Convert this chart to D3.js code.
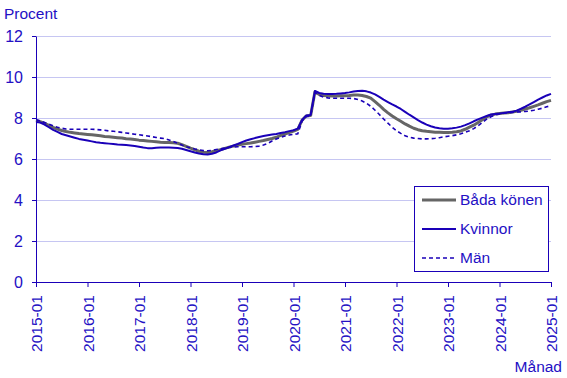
<!DOCTYPE html>
<html><head><meta charset="utf-8">
<script src="https://cdn.jsdelivr.net/npm/d3@7"></script>
<style>body{margin:0;background:#fff}svg{display:block;font-family:"Liberation Sans",Arial,sans-serif}</style>
</head><body><svg id="c" width="567" height="378"></svg>
<script>
const startYear = 2015;
const tickLabels = ["2015-01","2016-01","2017-01","2018-01","2019-01","2020-01","2021-01","2022-01","2023-01","2024-01","2025-01"];
const yTicks = [0,2,4,6,8,10,12];
const seriesNames = ["Båda könen","Kvinnor","Män"];
const bada = [7.87,7.82,7.74,7.64,7.54,7.46,7.39,7.34,7.30,7.27,7.24,7.22,
7.20,7.18,7.16,7.13,7.10,7.08,7.06,7.04,7.02,6.99,6.97,6.95,
6.92,6.90,6.88,6.86,6.84,6.82,6.81,6.80,6.79,6.77,6.70,6.62,
6.53,6.45,6.38,6.33,6.32,6.35,6.40,6.46,6.52,6.58,6.63,6.68,
6.72,6.75,6.78,6.82,6.86,6.90,6.95,7.00,7.06,7.15,7.22,7.29,
7.36,7.45,7.90,8.10,8.12,9.28,9.15,9.10,9.08,9.07,9.07,9.08,
9.09,9.10,9.12,9.12,9.10,9.05,8.97,8.80,8.62,8.42,8.25,8.10,
7.96,7.84,7.71,7.60,7.50,7.43,7.38,7.35,7.33,7.31,7.30,7.29,
7.29,7.30,7.33,7.37,7.45,7.55,7.65,7.78,7.92,8.05,8.14,8.19,
8.22,8.24,8.26,8.29,8.33,8.38,8.44,8.50,8.57,8.64,8.72,8.80,
8.86];
const kvinnor = [7.80,7.78,7.68,7.55,7.42,7.32,7.22,7.16,7.10,7.04,6.98,6.94,
6.90,6.86,6.82,6.79,6.77,6.75,6.73,6.71,6.70,6.68,6.66,6.63,
6.60,6.56,6.53,6.52,6.55,6.56,6.56,6.56,6.55,6.54,6.50,6.44,
6.38,6.32,6.27,6.23,6.22,6.26,6.32,6.42,6.50,6.58,6.66,6.73,
6.82,6.90,6.96,7.02,7.07,7.12,7.16,7.19,7.22,7.27,7.31,7.36,
7.40,7.48,7.90,8.12,8.15,9.32,9.22,9.18,9.17,9.17,9.18,9.20,
9.22,9.25,9.29,9.32,9.33,9.30,9.24,9.15,9.03,8.90,8.78,8.66,
8.56,8.44,8.30,8.16,8.03,7.90,7.78,7.68,7.60,7.54,7.50,7.48,
7.48,7.50,7.53,7.58,7.65,7.74,7.84,7.93,8.02,8.10,8.17,8.20,
8.22,8.25,8.28,8.30,8.36,8.45,8.55,8.66,8.78,8.90,9.00,9.10,
9.18];
const man = [7.92,7.86,7.78,7.70,7.62,7.55,7.50,7.46,7.45,7.45,7.45,7.45,
7.45,7.45,7.44,7.42,7.40,7.37,7.35,7.33,7.30,7.27,7.24,7.21,
7.18,7.15,7.12,7.09,7.05,7.02,6.99,6.93,6.86,6.77,6.68,6.60,
6.54,6.49,6.45,6.41,6.40,6.42,6.46,6.50,6.53,6.56,6.58,6.60,
6.60,6.60,6.60,6.61,6.63,6.68,6.76,6.88,6.97,7.05,7.12,7.17,
7.20,7.23,7.85,8.08,8.10,9.25,9.10,9.02,8.98,8.96,8.96,8.96,
8.96,8.96,8.95,8.90,8.83,8.72,8.57,8.38,8.17,7.95,7.75,7.55,
7.38,7.25,7.13,7.06,7.02,7.00,6.98,6.98,6.99,7.01,7.04,7.08,
7.11,7.14,7.18,7.23,7.30,7.38,7.48,7.62,7.78,7.94,8.06,8.14,
8.20,8.23,8.25,8.27,8.29,8.30,8.32,8.34,8.38,8.43,8.48,8.55,
8.60];

const blue = "#1a00b8", text = "#2410c4", grid = "#c6c6f2";
const svg = d3.select("#c");
const x = d3.scaleLinear().domain([0, 120]).range([36, 551]);
const y = d3.scaleLinear().domain([0, 12]).range([282, 36]);

// grid
svg.append("g").selectAll("line").data(yTicks.filter(d => d > 0)).join("line")
  .attr("x1", 36).attr("x2", 551).attr("y1", d => y(d)).attr("y2", d => y(d))
  .attr("stroke", grid).attr("stroke-width", 1).attr("shape-rendering","crispEdges");

// y axis
const ya = svg.append("g").attr("transform", "translate(36,0)")
  .call(d3.axisLeft(y).tickValues(yTicks).tickSize(4).tickPadding(9).tickSizeOuter(0));
ya.select(".domain").attr("stroke", blue);
ya.selectAll(".tick line").attr("stroke", blue);
ya.selectAll("text").attr("fill", text).attr("font-size", 16).attr("font-family", "Liberation Sans, Arial, sans-serif");

// x axis
const xa = svg.append("g").attr("transform", "translate(0,282)")
  .call(d3.axisBottom(x).tickValues(tickLabels.map((d, i) => i * 12)).tickFormat((d, i) => tickLabels[i]).tickSize(5).tickSizeOuter(0));
xa.select(".domain").attr("stroke", blue).attr("d", "M36,0.5H551");
xa.selectAll(".tick line").attr("stroke", blue);
xa.selectAll("text").attr("fill", text).attr("font-size", 15.5).attr("font-family", "Liberation Sans, Arial, sans-serif")
  .attr("transform", "rotate(-90)").attr("text-anchor", "end").attr("x", -13).attr("y", 0).attr("dy", "0.36em");

const line = d3.line().x((d, i) => x(i)).y(d => y(d));
svg.append("path").datum(bada).attr("d", line).attr("fill", "none").attr("stroke", "#666666").attr("stroke-width", 3).attr("stroke-linejoin","round");
svg.append("path").datum(kvinnor).attr("d", line).attr("fill", "none").attr("stroke", blue).attr("stroke-width", 2).attr("stroke-linejoin","round");
svg.append("path").datum(man).attr("d", line).attr("fill", "none").attr("stroke", blue).attr("stroke-width", 1.6).attr("stroke-dasharray", "4,3");

// titles
svg.append("text").attr("x", 4).attr("y", 19).attr("fill", text).attr("font-size", 15.5).text("Procent");
svg.append("text").attr("x", 562).attr("y", 372).attr("text-anchor", "end").attr("fill", text).attr("font-size", 15.5).text("Månad");

// legend
const lg = svg.append("g");
lg.append("rect").attr("x", 414.5).attr("y", 186.5).attr("width", 134).attr("height", 85).attr("fill", "#fff").attr("stroke", blue).attr("stroke-width", 1);
const styles = [{c:"#666666",w:3,d:null},{c:blue,w:2,d:null},{c:blue,w:1.6,d:"4,3"}];
const ly = [200, 229, 258];
seriesNames.forEach((n, i) => {
  lg.append("line").attr("x1", 422).attr("x2", 456).attr("y1", ly[i]).attr("y2", ly[i])
    .attr("stroke", styles[i].c).attr("stroke-width", styles[i].w).attr("stroke-dasharray", styles[i].d);
  lg.append("text").attr("x", 460).attr("y", ly[i]).attr("dy", "0.35em").attr("fill", text).attr("font-size", 15.5).text(n);
});
</script></body></html>
